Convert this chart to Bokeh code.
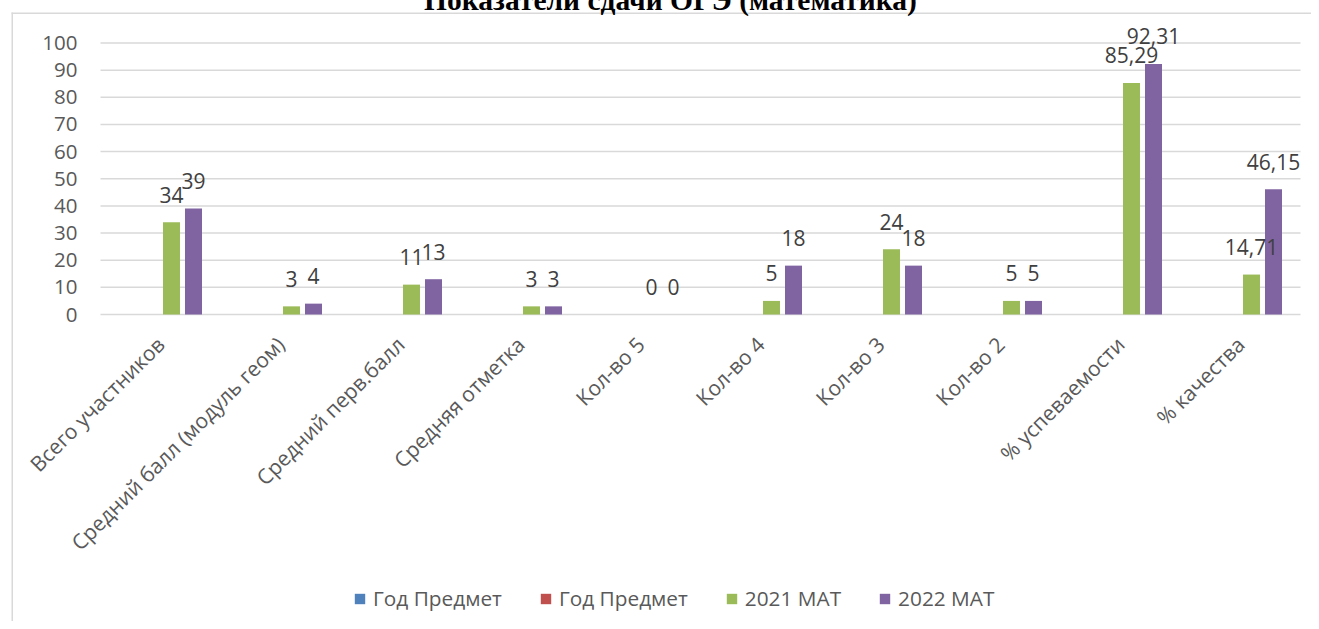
import math
from bokeh.plotting import figure
from bokeh.models import (ColumnDataSource, Range1d, LabelSet, Label, BoxAnnotation,
                          Legend, LegendItem, FixedTicker)
from bokeh.transform import dodge
from bokeh.core.properties import value
from bokeh.embed import file_html
from bokeh.resources import INLINE

# ---------------- data ----------------
categories = ["Всего участников", "Средний балл (модуль геом)", "Средний перв.балл",
              "Средняя отметка", "Кол-во 5", "Кол-во 4", "Кол-во 3", "Кол-во 2",
              "% успеваемости", "% качества"]
series_names = ["Год Предмет", "Год Предмет", "2021 МАТ", "2022 МАТ"]
god_predmet_1 = [None, None, None, None, None, None, None, None, None, None]
god_predmet_2 = [None, None, None, None, None, None, None, None, None, None]
mat_2021 = [34, 3, 11, 3, 0, 5, 24, 5, 85.29, 14.71]
mat_2022 = [39, 4, 13, 3, 0, 18, 18, 5, 92.31, 46.15]
y_ticks = [0, 10, 20, 30, 40, 50, 60, 70, 80, 90, 100]
title_text = "Показатели сдачи ОГЭ (математика)"

colors = ["#4F81BD", "#C0504D", "#9BBB59", "#8064A2"]


def fmt(v):
    if v is None:
        return ""
    if float(v).is_integer():
        return str(int(v))
    return f"{v:.2f}".replace(".", ",")


def nanify(lst):
    return [float("nan") if v is None else v for v in lst]


idx = list(range(len(categories)))
src = ColumnDataSource(dict(
    idx=idx,
    s1=nanify(god_predmet_1),
    s2=nanify(god_predmet_2),
    s3=mat_2021,
    s4=mat_2022,
    t3=[fmt(v) for v in mat_2021],
    t4=[fmt(v) for v in mat_2022],
))
grid_src = ColumnDataSource(dict(y=y_ticks))

# ---------------- layout geometry (pixels) ----------------
W, H = 1303, 631            # canvas: page x 8..1311, page y -10..621
PX_PER_CAT = 120.0          # plot area page x 100..1300
PX_PER_UNIT = 2.715         # value 0 at page y 314
x_lo = -0.5 - 92 / PX_PER_CAT
x_hi = x_lo + W / PX_PER_CAT
y_hi = (314 + 10) / PX_PER_UNIT
y_lo = y_hi - H / PX_PER_UNIT
n = len(categories)

p = figure(x_range=Range1d(x_lo, x_hi), y_range=Range1d(y_lo, y_hi), title=None,
           width=W, height=H, output_backend="svg", toolbar_location=None,
           min_border=0, margin=(-10, 0, 0, 8))
p.outline_line_color = None
p.background_fill_color = "white"
p.border_fill_color = "white"
p.xgrid.visible = False
p.ygrid.visible = False

# chart-area border: only its left and top edges fall inside the window
for box in [dict(left=3, right=4.5, top=H - 22, bottom=-400),
            dict(left=3, right=W + 400, top=H - 22, bottom=H - 23.5)]:
    p.add_layout(BoxAnnotation(left_units="screen", right_units="screen",
                               top_units="screen", bottom_units="screen",
                               fill_color="#d9d9d9", fill_alpha=1,
                               line_color=None, **box))

# horizontal gridlines over the category span
p.segment(x0=-0.5, x1=n - 0.5, y0="y", y1="y", source=grid_src,
          line_color="#d9d9d9", line_width=1.5)

# y axis
p.yaxis.fixed_location = -0.5
p.yaxis.bounds = (0, 100)
p.yaxis.ticker = FixedTicker(ticks=y_ticks)
p.yaxis.axis_line_color = None
p.yaxis.major_tick_line_color = None
p.yaxis.minor_tick_line_color = None
p.yaxis.major_tick_out = 0
p.yaxis.major_tick_in = 0
p.yaxis.major_label_standoff = 23
p.yaxis.major_label_text_font = "Open Sans"
p.yaxis.major_label_text_font_size = "20.5px"
p.yaxis.major_label_text_color = "#595959"

# x axis (categories)
p.xaxis.fixed_location = 0
p.xaxis.bounds = (-0.5, n - 0.5)
p.xaxis.ticker = FixedTicker(ticks=idx)
p.xaxis.major_label_overrides = {i: c for i, c in zip(idx, categories)}
p.xaxis.axis_line_color = None
p.xaxis.major_tick_line_color = None
p.xaxis.minor_tick_line_color = None
p.xaxis.major_tick_out = 0
p.xaxis.major_tick_in = 0
p.xaxis.major_label_orientation = math.pi / 4
p.xaxis.major_label_standoff = 26
p.xaxis.major_label_text_font = "Open Sans"
p.xaxis.major_label_text_font_size = "21px"
p.xaxis.major_label_text_color = "#595959"

offsets = [-0.275, -0.0917, 0.0917, 0.275]
bar_w = 0.1417
renderers = []
for i, col in enumerate(["s1", "s2", "s3", "s4"]):
    r = p.vbar(x=dodge("idx", offsets[i]), top=col, bottom=0,
               width=bar_w, source=src, fill_color=colors[i], line_color=None)
    renderers.append(r)

for col, tcol, off in [("s3", "t3", offsets[2]), ("s4", "t4", offsets[3])]:
    ls = LabelSet(x=dodge("idx", off), y=col, text=tcol, source=src,
                  y_offset=19.5, text_align="center", text_baseline="alphabetic",
                  text_font=value("Open Sans"), text_font_size="21px",
                  text_color="#404040")
    p.add_layout(ls)

legend = Legend(items=[LegendItem(label=series_names[i], renderers=[renderers[i]])
                       for i in range(4)],
                orientation="horizontal", location=(345, 9),
                glyph_width=13, glyph_height=13, label_standoff=7, spacing=37,
                padding=0, margin=0, border_line_color=None,
                background_fill_alpha=0, label_text_font="Open Sans",
                label_text_font_size="20.8px", label_text_color="#595959")
p.add_layout(legend)

title = Label(x=662, y=H - 9, x_units="screen", y_units="screen", text=title_text,
              text_align="center", text_baseline="alphabetic",
              text_font="Liberation Serif", text_font_style="bold",
              text_font_size="29.5px", text_color="black")
p.add_layout(title)

open("out.html", "w").write(file_html(p, INLINE))
